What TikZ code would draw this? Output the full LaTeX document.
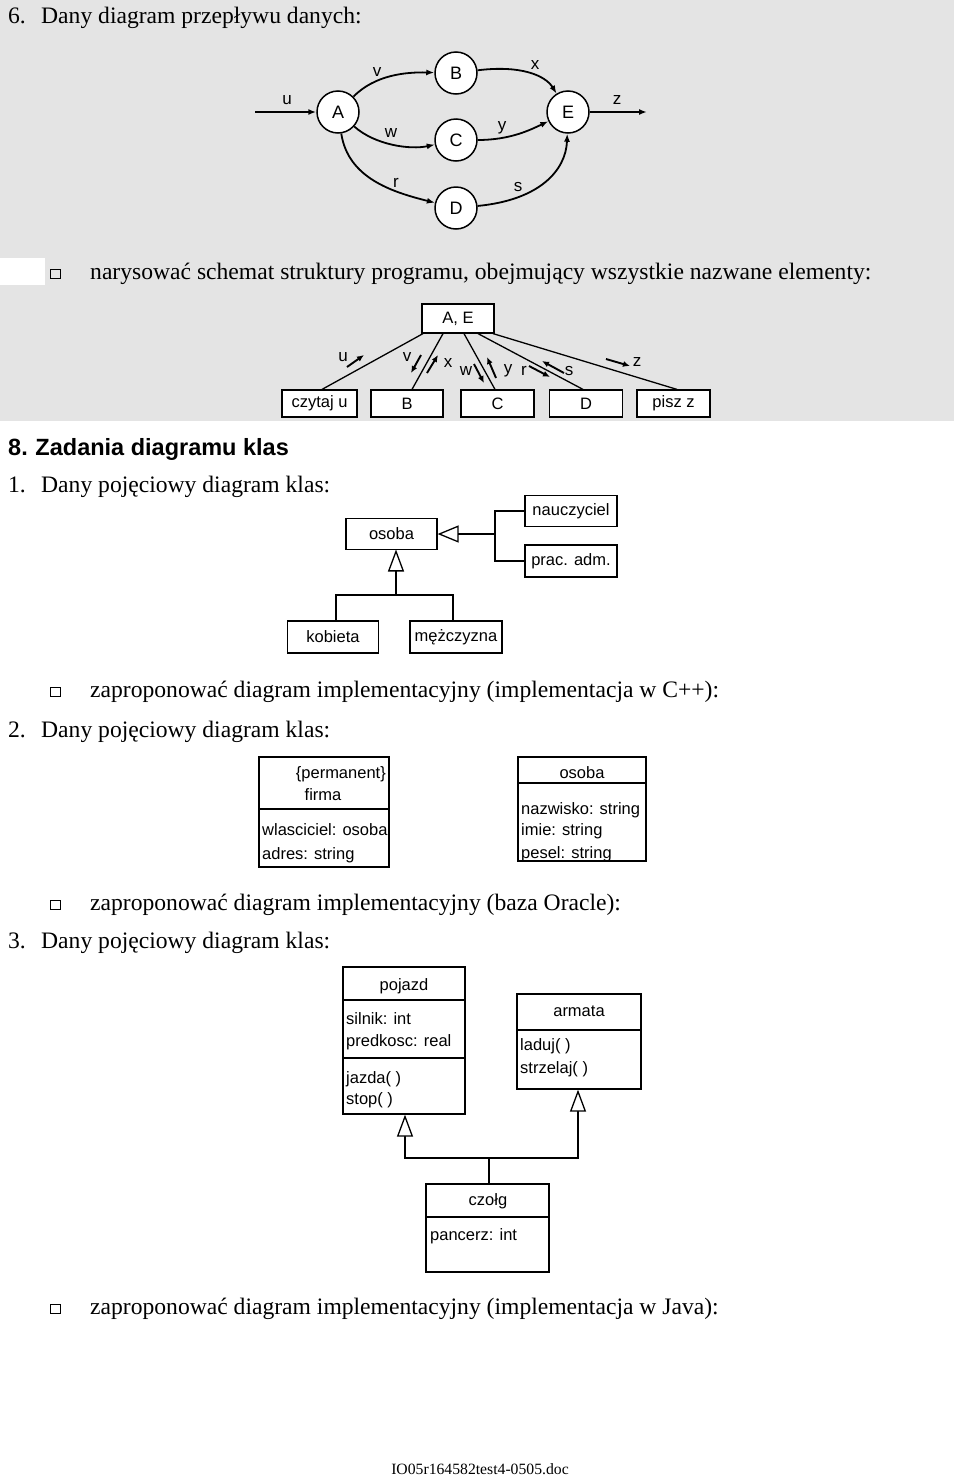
\documentclass[tikz,border=0pt]{standalone}
\usepackage{fontspec}
\setmainfont{Liberation Serif}
\newfontfamily\arialf{Liberation Sans}
\usetikzlibrary{arrows.meta,calc}
\definecolor{bggray}{HTML}{E4E4E4}
\begin{document}
\begin{tikzpicture}[x=1pt,y=-1pt,
  txt/.style={font=\fontsize{23.6}{27}\selectfont, anchor=base west, inner sep=0pt},
  lab/.style={font=\arialf\fontsize{17}{19}\selectfont, inner sep=0pt},
  circ/.style={circle, draw, fill=white, line width=1.5pt, minimum size=42pt, inner sep=0pt, font=\arialf\fontsize{18}{20}\selectfont},
  flow/.style={line width=1.8pt, -{Latex[length=8pt,width=6pt]}},
  sbox/.style={draw, fill=white, line width=1.2pt, inner sep=0pt, font=\arialf\fontsize{16.5}{19}\selectfont},
  sarr/.style={line width=1.9pt, -{Latex[length=7pt,width=6pt]}},
  sline/.style={line width=1.3pt},
  cls/.style={draw, fill=white, line width=1.3pt, inner sep=0pt},
  ctxt/.style={font=\arialf\fontsize{16.5}{19}\selectfont, inner sep=0pt, anchor=base west},
  chead/.style={font=\arialf\fontsize{16.5}{19}\selectfont, inner sep=0pt, anchor=base},
  inh/.style={line width=1.3pt, -{Triangle[length=21pt,width=17pt,fill=white]}},
  inhb/.style={line width=1.3pt, -{Triangle[length=22pt,width=16pt,fill=white]}},
  bul/.style={draw, line width=0.7pt, minimum width=9.5pt, minimum height=9.5pt, inner sep=0pt, anchor=south west}
]
\useasboundingbox (0,0) rectangle (960,1478);
\fill[white] (0,0) rectangle (960,1478);
\fill[bggray] (0,0) rectangle (954,421);
\fill[white] (0,258) rectangle (45,285);

% ---------- heading 6 ----------
\node[txt] (t6) at (8,23) {\makebox[33pt][l]{6.}Dany diagram przepływu danych:};

% ---------- data flow diagram ----------
\node[circ] (A) at (338,112) {A};
\node[circ] (B) at (456,73) {B};
\node[circ] (C) at (456,140) {C};
\node[circ] (D) at (456,208) {D};
\node[circ] (E) at (568,112) {E};
\coordinate (uin) at (255,112);
\coordinate (zout) at (647,112);
\draw[flow] (uin) -- (A);
\draw[flow] (E) -- (zout);
\draw[flow] (A) .. controls (375,75) and (405,72) .. (B);
\draw[flow] (A) .. controls (375,145) and (410,150) .. (C);
\draw[flow] (A) .. controls (348,178) and (392,192) .. (D);
\draw[flow] (B) .. controls (520,65) and (545,75) .. (E);
\draw[flow] (C) .. controls (510,140) and (530,130) .. (E);
\draw[flow] (D) .. controls (540,200) and (566,170) .. (E);
\node[lab] (lu) at (287,100) {u};
\node[lab] (lv) at (377,72) {v};
\node[lab] (lx) at (535,65) {x};
\node[lab] (lw) at (391,133) {w};
\node[lab] (ly) at (502,128) {y};
\node[lab] (lr) at (396,183) {r};
\node[lab] (ls) at (518,187) {s};
\node[lab] (lz) at (617,100) {z};

% ---------- bullet 1 ----------
\node[bul] (b1) at (50,279) {};
\node[txt] (t1) at (90,279) {narysować schemat struktury programu, obejmujący wszystkie nazwane elementy:};

% ---------- structure chart ----------
\node[sbox, minimum width=72pt, minimum height=29pt] (AE) at (458,318.5) {A, E};
\node[sbox, minimum width=75pt, minimum height=27pt] (cz) at (319.5,403.5) {czytaj u};
\node[sbox, minimum width=72pt, minimum height=27pt] (sB) at (407,403.5) {B};
\node[sbox, minimum width=73pt, minimum height=27pt] (sC) at (497.5,403.5) {C};
\node[sbox, minimum width=73pt, minimum height=27pt] (sD) at (586,403.5) {D};
\node[sbox, minimum width=73pt, minimum height=27pt] (pz) at (673.5,403.5) {pisz z};
\draw[sline] ([xshift=-35pt]AE.south) -- ([xshift=2.5pt]cz.north);
\draw[sline] ([xshift=-15pt]AE.south) -- ([xshift=5pt]sB.north);
\draw[sline] ([xshift=6pt]AE.south) -- ([xshift=-2.5pt]sC.north);
\draw[sline] ([xshift=20pt]AE.south) -- ([xshift=-3pt]sD.north);
\draw[sline] ([xshift=35pt]AE.south) -- ([xshift=3.5pt]pz.north);
\coordinate (ua1) at (347,367); \coordinate (ua2) at (364,355);
\coordinate (va1) at (421,355); \coordinate (va2) at (411,373);
\coordinate (xa1) at (427,373); \coordinate (xa2) at (438,355);
\coordinate (wa1) at (474,364); \coordinate (wa2) at (484,383);
\coordinate (ya1) at (496,378); \coordinate (ya2) at (487,357);
\coordinate (ra1) at (529,366); \coordinate (ra2) at (550,377);
\coordinate (sa1) at (564,373); \coordinate (sa2) at (542,361);
\coordinate (za1) at (606,359); \coordinate (za2) at (630,366);
\draw[sarr] (ua1) -- (ua2);
\draw[sarr] (va1) -- (va2);
\draw[sarr] (xa1) -- (xa2);
\draw[sarr] (wa1) -- (wa2);
\draw[sarr] (ya1) -- (ya2);
\draw[sarr] (ra1) -- (ra2);
\draw[sarr] (sa1) -- (sa2);
\draw[sarr] (za1) -- (za2);
\node[lab] (su) at (343,357) {u};
\node[lab] (sv) at (407,357) {v};
\node[lab] (sx) at (448,363) {x};
\node[lab] (sw) at (466,371) {w};
\node[lab] (sy) at (508,371) {y};
\node[lab] (sr) at (524,371) {r};
\node[lab] (ss) at (569,371) {s};
\node[lab] (sz) at (637,362) {z};

% ---------- section 8 ----------
\node[anchor=base west, inner sep=0pt, font=\arialf\bfseries\fontsize{23.5}{27}\selectfont] (h8) at (8,455) {8.\hspace{-1pt} Zadania diagramu klas};
\node[txt] (t8a) at (8,492) {\makebox[33pt][l]{1.}Dany pojęciowy diagram klas:};

% class diagram 1
\node[sbox, minimum width=91pt, minimum height=31pt] (osoba1) at (391.5,534) {osoba};
\node[sbox, minimum width=92pt, minimum height=31pt] (naucz) at (571,511) {nauczyciel};
\node[sbox, minimum width=92pt, minimum height=32pt] (prac) at (571,561) {prac. adm.};
\node[sbox, minimum width=91pt, minimum height=32pt] (kob) at (333,637) {kobieta};
\node[sbox, minimum width=92pt, minimum height=32pt] (mez) at (456,637) {mężczyzna};
\coordinate (j1) at (495,534);
\coordinate (j2) at (396,595);
\coordinate (t2) at (396,549.5);
\draw[sline] (naucz.west) -| (j1) |- (prac.west);
\draw[inh] (j1) -- (osoba1.east);
\draw[sline] ([xshift=3pt]kob.north) |- (j2) -| ([xshift=-3pt]mez.north);
\draw[inhb] (j2) -- (t2);

\node[bul] (b2) at (50,697) {};
\node[txt] (t2a) at (90,697) {zaproponować diagram implementacyjny (implementacja w C++):};
\node[txt] (t2b) at (8,737) {\makebox[33pt][l]{2.}Dany pojęciowy diagram klas:};

% class diagram 2
\node[cls, minimum width=130pt, minimum height=110pt] (firma) at (324,812) {};
\draw[sline] (firma.west |- 0,809) -- (firma.east |- 0,809);
\node[chead, anchor=base east] (perm) at (386,778) {\{permanent\}};
\node[chead] (fname) at (323,800) {firma};
\node[ctxt] (f1) at (262,835) {wlasciciel: osoba};
\node[ctxt] (f2) at (262,859) {adres: string};

\node[cls, minimum width=128pt, minimum height=104pt] (osoba2) at (582,809) {};
\draw[sline] (osoba2.west |- 0,783) -- (osoba2.east |- 0,783);
\node[chead] (oname) at (582,778) {osoba};
\node[ctxt] (o1) at (521,814) {nazwisko: string};
\node[ctxt] (o2) at (521,835) {imie: string};
\begin{scope}
\clip (519,840) rectangle (645,860.5);
\node[ctxt] (o3) at (521,858) {pesel: string};
\end{scope}

\node[bul] (b3) at (50,910) {};
\node[txt] (t3a) at (90,910) {zaproponować diagram implementacyjny (baza Oracle):};
\node[txt] (t3b) at (8,948) {\makebox[33pt][l]{3.}Dany pojęciowy diagram klas:};

% class diagram 3
\node[cls, minimum width=122pt, minimum height=147pt] (pojazd) at (404,1040.5) {};
\draw[sline] (pojazd.west |- 0,1000) -- (pojazd.east |- 0,1000);
\draw[sline] (pojazd.west |- 0,1058) -- (pojazd.east |- 0,1058);
\node[chead] (pname) at (404,990) {pojazd};
\node[ctxt] (p1) at (346,1024) {silnik: int};
\node[ctxt] (p2) at (346,1046) {predkosc: real};
\node[ctxt] (p3) at (346,1083) {jazda( )};
\node[ctxt] (p4) at (346,1104) {stop( )};

\node[cls, minimum width=124pt, minimum height=95pt] (armata) at (579,1041.5) {};
\draw[sline] (armata.west |- 0,1030) -- (armata.east |- 0,1030);
\node[chead] (aname) at (579,1016) {armata};
\node[ctxt] (a1) at (520,1050) {laduj( )};
\node[ctxt] (a2) at (520,1073) {strzelaj( )};

\node[cls, minimum width=123pt, minimum height=88pt] (czolg) at (487.5,1228) {};
\draw[sline] (czolg.west |- 0,1217) -- (czolg.east |- 0,1217);
\node[chead] (cname) at (488,1205) {czołg};
\node[ctxt] (c1) at (430,1240) {pancerz: int};

\coordinate (j3) at (489,1158);
\draw[sline] ([xshift=1.5pt]czolg.north) -- (j3);
\draw[inhb] (j3) -| ([xshift=1pt]pojazd.south);
\draw[inhb] (j3) -| ([xshift=-1pt]armata.south);

\node[bul] (b4) at (50,1314) {};
\node[txt] (t4a) at (90,1314) {zaproponować diagram implementacyjny (implementacja w Java):};

\node[anchor=base, inner sep=0pt, font=\fontsize{15.7}{18}\selectfont] (foot) at (480,1474) {IO05r164582test4-0505.doc};
\end{tikzpicture}
\end{document}
